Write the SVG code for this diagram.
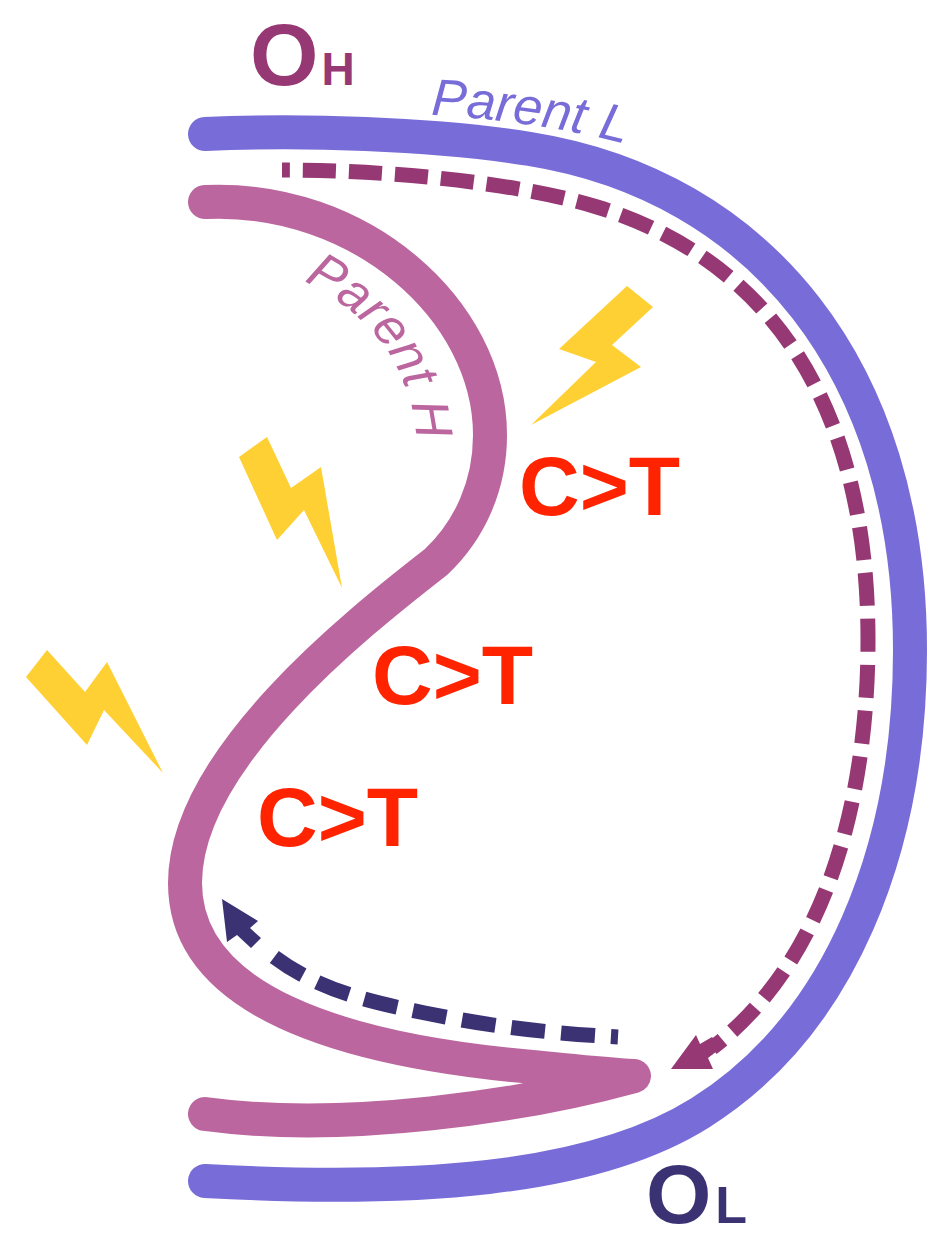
<svg xmlns="http://www.w3.org/2000/svg" width="927" height="1237" viewBox="0 0 927 1237">
<style>
.strand{fill:none;stroke-linecap:round;stroke-linejoin:round;stroke-width:34}
.dash{fill:none;stroke-width:15}
.bolt{fill:#ffd033}
.ct{font:bold 84px "Liberation Sans",Arial,sans-serif;fill:#ff2300}
.o{font-family:"Liberation Sans",Arial,sans-serif;font-weight:bold}
.lab{font:italic 52px "Liberation Sans",Arial,sans-serif}
</style>
<defs>
<path id="pl" d="M431 115 C 490 118 570 128 640 148"/>
<path id="ph" d="M304 281 C 350 306 410 345 417 445"/>
</defs>
<rect width="927" height="1237" fill="#fff"/>
<g id="connectors">
<path class="dash" stroke="#963873" stroke-dasharray="33 13" stroke-dashoffset="25" d="M282 170 C 390 170 520 183 597 207 C 775 262 868 410 868 640 C 868 770 840 950 712 1048"/>
<polygon fill="#963873" points="671,1069 696,1035 700,1044 712,1037 721,1048 708,1058 713,1069"/>
<path class="dash" stroke="#3b3274" stroke-dasharray="34 16" stroke-dashoffset="27" d="M618 1037 C 530 1032 480 1024 425 1013 C 370 1002 315 990 268 952"/>
<polygon fill="#3b3274" points="222,899 258,921 250,928 261,938 251,948 237,935 227,942"/>
</g>
<g id="parent-l">
<path class="strand" stroke="#786cd8" d="M205 134 C 300 130 430 133 530 149 C 760 186 910 370 910 650 C 910 850 840 1025 700 1113 C 590 1182 410 1192 205 1181"/>
<text class="lab" fill="#786cd8"><textPath href="#pl">Parent L</textPath></text>
</g>
<g id="parent-h">
<path class="strand" stroke="#bb669e" d="M205 202 C 360 195 490 310 490 435 C 490 485 470 530 436 562 C 355 625 185 760 185 883 C 185 1000 340 1050 532 1067 C 565 1070 600 1074 634 1076 C 525 1106 345 1133 205 1114"/>
<text class="lab" fill="#bb669e"><textPath href="#ph">Parent H</textPath></text>
</g>
<g id="bolt-1"><polygon class="bolt" points="627,286 653,307 612,345 641,367 531,425 596,362 559,349"/></g>
<g id="bolt-2"><polygon class="bolt" points="267,437 291,488 321,467 342,588 304,510 277,540 239,457"/></g>
<g id="bolt-3"><polygon class="bolt" points="47,650 85,692 107,662 163,773 104,710 87,745 26,677"/></g>
<g id="ct-1"><text class="ct" x="519" y="515">C&gt;T</text></g>
<g id="ct-2"><text class="ct" x="372" y="704">C&gt;T</text></g>
<g id="ct-3"><text class="ct" x="257" y="846">C&gt;T</text></g>
<g id="oh"><text class="o" fill="#963873" x="250" y="85" font-size="88">O<tspan font-size="46" dx="3">H</tspan></text></g>
<g id="ol"><text class="o" fill="#3b3274" x="646" y="1223" font-size="84">O<tspan font-size="52" dx="4">L</tspan></text></g>
</svg>
